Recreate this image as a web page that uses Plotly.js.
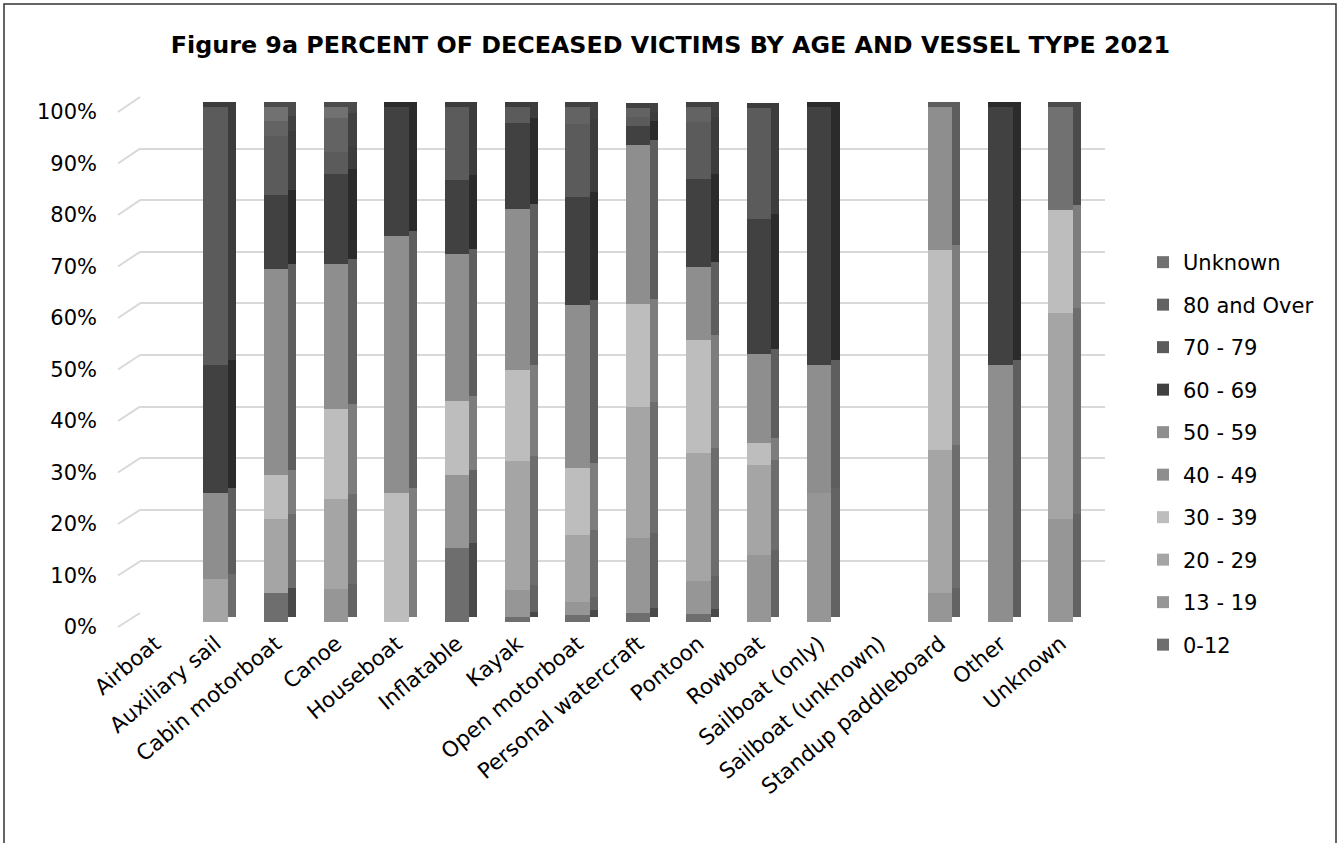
<!DOCTYPE html>
<html>
<head>
<meta charset="utf-8">
<script src="https://cdn.plot.ly/plotly-3.0.1.min.js"></script>
<style>html,body{margin:0;padding:0;background:#fff;}#chart{width:1341px;height:843px;}</style>
</head>
<body>
<div id="chart"></div>
<script>
const categories = ['Airboat','Auxiliary sail','Cabin motorboat','Canoe','Houseboat','Inflatable','Kayak','Open motorboat','Personal watercraft','Pontoon','Rowboat','Sailboat (only)','Sailboat (unknown)','Standup paddleboard','Other','Unknown'];
const ageGroups = ['0-12','13 - 19','20 - 29','30 - 39','40 - 49','50 - 59','60 - 69','70 - 79','80 and Over','Unknown'];
const age0_12    = [0, 0,    5.7, 0,    0,  14.3, 1.0,  1.4,  1.8,  1.6,  0,    0,  0, 0,    0,  0];
const age13_19   = [0, 0,    0,   6.5,  0,  14.3, 5.2,  2.4,  14.5, 6.3,  13.0, 25, 0, 5.6,  0,  20];
const age20_29   = [0, 8.3,  14.3,17.4, 0,  0,    25.0, 13.1, 25.5, 25.0, 17.4, 0,  0, 27.8, 0,  40];
const age30_39   = [0, 0,    8.6, 17.4, 25, 14.3, 17.7, 13.1, 20.0, 21.9, 4.3,  0,  0, 38.9, 0,  20];
const age40_49   = [0, 16.7, 40.0,28.3, 50, 28.6, 31.3, 31.6, 30.9, 14.1, 17.4, 25, 0, 27.8, 50, 0];
const age50_59   = [0, 0,    0,   0,    0,  0,    0,    0,    0,    0,    0,    0,  0, 0,    0,  0];
const age60_69   = [0, 25,   14.3,17.4, 25, 14.3, 16.7, 21.0, 3.6,  17.2, 26.1, 50, 0, 0,    50, 0];
const age70_79   = [0, 50,   11.4,4.3,  0,  14.3, 3.1,  14.1, 1.8,  10.9, 21.7, 0,  0, 0,    0,  0];
const age80plus  = [0, 0,    2.9, 6.5,  0,  0,    0,    3.3,  1.8,  3.1,  0,    0,  0, 0,    0,  0];
const ageUnknown = [0, 0,    2.9, 2.2,  0,  0,    0,    0,    0,    0,    0,    0,  0, 0,    0,  20];
const yTicks = [0,10,20,30,40,50,60,70,80,90,100];

const seriesValues = [age0_12, age13_19, age20_29, age30_39, age40_49, age50_59, age60_69, age70_79, age80plus, ageUnknown];
const frontColors = ['#6e6e6e','#969696','#a5a5a5','#bdbdbd','#8e8e8e','#8f8f8f','#414141','#5b5b5b','#636363','#717171'];

const W = 1341, H = 843;
const px = v => v / W;
const py = v => 1 - v / H;
function shade(hex, f) {
  const n = parseInt(hex.slice(1), 16);
  const r = Math.round(((n >> 16) & 255) * f), g = Math.round(((n >> 8) & 255) * f), b = Math.round((n & 255) * f);
  return 'rgb(' + r + ',' + g + ',' + b + ')';
}

// geometry (pixels)
const frontPlane = {x0: 118, y0: 627, y100: 112};
const barFront = {x0: 125, x1: 1091, y0: 622, y100: 107};
const backWall = {x0: 140, x1: 1105, y0: 613, y100: 97};
const sideShift = 5;

const traces = [];
traces.push({type: 'scatter', x: [], y: [], xaxis: 'x', yaxis: 'y', showlegend: false, hoverinfo: 'skip'});
seriesValues.forEach((vals, i) => {
  traces.push({type: 'bar', x: categories, y: vals, xaxis: 'x2', yaxis: 'y2',
    width: 0.54, offset: -0.205, showlegend: false, hoverinfo: 'skip',
    marker: {color: shade(frontColors[i], 0.66), line: {width: 0}}});
});
seriesValues.forEach((vals, i) => {
  traces.push({type: 'bar', name: ageGroups[i], x: categories, y: vals, xaxis: 'x2', yaxis: 'y3',
    width: 0.405, offset: -0.205, legendgroup: 'g' + i, legendrank: 1000 - i,
    marker: {color: frontColors[i], line: {width: 0}}});
});
traces.push({type: 'scatter', x: [], y: [], xaxis: 'x2', yaxis: 'y4', showlegend: false, hoverinfo: 'skip'});

const shapes = [];
yTicks.forEach(v => {
  const fy = frontPlane.y0 + (frontPlane.y100 - frontPlane.y0) * v / 100;
  const by = backWall.y0 + (backWall.y100 - backWall.y0) * v / 100;
  shapes.push({type: 'line', xref: 'paper', yref: 'paper', x0: px(frontPlane.x0), y0: py(fy), x1: px(backWall.x0), y1: py(by),
    line: {color: '#d9d9d9', width: 2}, layer: 'below'});
});
shapes.push({type: 'rect', xref: 'paper', yref: 'paper', x0: px(4), y0: py(900), x1: px(1336), y1: py(4),
  line: {color: '#333', width: 1.5}, fillcolor: 'rgba(0,0,0,0)', layer: 'above'});

const fontFam = 'DejaVu Sans, Liberation Sans, Arial, sans-serif';
const layout = {
  width: W, height: H,
  margin: {l: 0, r: 0, t: 0, b: 0},
  paper_bgcolor: '#fff', plot_bgcolor: 'rgba(0,0,0,0)',
  barmode: 'stack',
  font: {family: fontFam, color: '#000'},
  title: {text: '<b>Figure 9a PERCENT OF DECEASED VICTIMS BY AGE AND VESSEL TYPE 2021</b>',
    font: {family: fontFam, size: 23.8, color: '#000'}, x: 0.5, xanchor: 'center', y: py(45), yanchor: 'middle'},
  xaxis: {domain: [px(backWall.x0), px(backWall.x1)], range: [0, 1], showgrid: false, zeroline: false, showticklabels: false, anchor: 'y'},
  yaxis: {domain: [py(backWall.y0), py(backWall.y100)], range: [0, 100], dtick: 10, showgrid: true, gridcolor: '#d9d9d9', gridwidth: 2,
    zeroline: false, showticklabels: false, anchor: 'x'},
  xaxis2: {domain: [px(barFront.x0), px(barFront.x1)], anchor: 'y3', type: 'category', showgrid: false, zeroline: false,
    tickangle: -40, ticks: '', tickfont: {family: fontFam, size: 21.5, color: '#000'}, ticklabelstandoff: 4},
  yaxis2: {domain: [py(barFront.y0 - sideShift), py(barFront.y100 - sideShift)], range: [0, 100], anchor: 'x2',
    showgrid: false, zeroline: false, showticklabels: false},
  yaxis3: {domain: [py(barFront.y0), py(barFront.y100)], range: [0, 100], anchor: 'x2',
    showgrid: false, zeroline: false, showticklabels: false},
  yaxis4: {domain: [py(frontPlane.y0), py(frontPlane.y100)], range: [0, 100], anchor: 'free', position: px(frontPlane.x0),
    tickvals: yTicks, ticktext: yTicks.map(v => v + '%'), showgrid: false, zeroline: false, ticks: '',
    ticklabelstandoff: 21, tickfont: {family: fontFam, size: 21, color: '#000'}},
  legend: {x: px(1143), xanchor: 'left', y: py(242), yanchor: 'top', traceorder: 'grouped', tracegroupgap: 12.2,
    font: {family: fontFam, size: 21, color: '#000'}, bgcolor: 'rgba(0,0,0,0)'},
  shapes: shapes,
  showlegend: true
};
Plotly.newPlot('chart', traces, layout, {displayModeBar: false, staticPlot: true});
</script>
</body>
</html>
